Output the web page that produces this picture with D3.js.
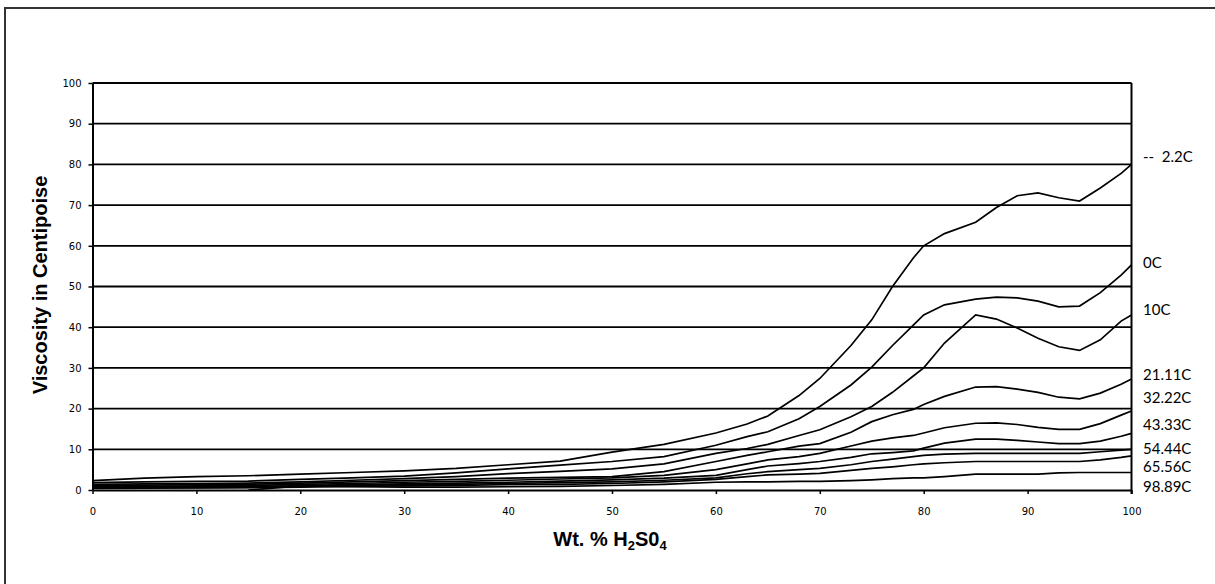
<!DOCTYPE html>
<meta charset="utf-8">
<style>
body { margin: 0; background: #fff; }
.grid line { stroke: #000; stroke-width: 1.8px; }
.series { fill: none; stroke: #000; stroke-width: 1.7px; }
.tick text { font-family: "DejaVu Sans", sans-serif; font-size: 10px; }
.rlabel { font-family: Lato, "Open Sans", sans-serif; font-size: 15px; white-space: pre; }
.title { font-family: "Liberation Sans", Arial, sans-serif; font-weight: bold; font-size: 20px; }
</style>
<body>
<svg id="chart"></svg>
<script src="https://cdn.jsdelivr.net/npm/d3@7"></script>
<script>

// wt % H2SO4 (shared x values)
var wt = [0,5,10,15,20,25,30,35,40,45,50,55,60,63,65,68,70,73,75,77,79,80,82,85,87,89,91,93,95,97,99,100];

// viscosity in centipoise, one array per temperature
var tM2_2  = [2.3,2.9,3.3,3.5,3.9,4.3,4.7,5.3,6.2,7.1,9.3,11.2,14.0,16.2,18.2,23.2,27.4,35.5,41.8,50.0,57.0,60.0,63.0,65.8,69.4,72.3,73.0,71.8,71.0,74.2,77.8,80.0];
var t0     = [1.8,2.0,2.1,2.2,2.6,3.0,3.4,4.2,5.2,6.1,7.0,8.2,11.0,13.1,14.3,17.5,20.5,25.8,30.2,35.5,40.5,43.0,45.5,46.9,47.4,47.2,46.4,45.0,45.2,48.5,52.8,55.3];
var t10    = [1.4,1.5,1.6,1.7,2.0,2.4,2.8,3.3,4.0,4.6,5.2,6.4,9.0,10.2,11.2,13.4,14.8,18.0,20.5,24.0,28.0,30.0,36.1,43.0,42.0,39.8,37.3,35.2,34.3,36.9,41.5,43.0];
var t21_11 = [1.1,1.2,1.3,1.4,1.7,2.0,2.3,2.6,2.9,3.1,3.3,4.5,7.0,8.5,9.4,10.8,11.4,14.2,16.8,18.5,19.8,21.0,23.0,25.3,25.4,24.8,24.0,22.8,22.4,23.8,26.0,27.3];
var t32_22 = [0.8,0.9,1.0,1.1,1.4,1.6,1.9,2.1,2.4,2.7,3.0,3.6,5.0,6.4,7.4,8.2,9.0,10.8,12.0,12.8,13.4,14.0,15.3,16.4,16.5,16.1,15.4,14.9,14.9,16.3,18.4,19.4];
var t43_33 = [0.6,0.7,0.75,0.8,1.1,1.3,1.5,1.7,1.9,2.2,2.5,2.9,3.6,5.0,5.9,6.5,7.0,8.0,8.9,9.2,9.6,10.3,11.5,12.5,12.5,12.2,11.8,11.4,11.4,12.0,13.2,13.9];
var t54_44 = [0.5,0.55,0.6,0.65,0.9,1.1,1.3,1.4,1.6,1.8,2.0,2.4,3.0,4.0,4.5,5.0,5.3,6.2,7.0,7.6,8.2,8.5,8.8,9.0,9.0,9.0,9.0,9.0,9.0,9.4,9.8,10.0];
var t65_56 = [0.4,0.45,0.5,0.55,0.7,0.9,1.0,1.1,1.3,1.4,1.6,2.0,2.6,3.3,3.7,3.9,4.1,4.8,5.3,5.7,6.2,6.4,6.7,7.0,7.0,7.0,7.0,7.0,7.0,7.4,8.0,8.4];
var t98_89 = [null,null,null,0,1.0,0.8,0.7,0.7,0.8,0.9,1.1,1.4,1.9,2.0,2.0,2.1,2.1,2.3,2.5,2.8,3.0,3.0,3.3,3.9,3.9,3.9,3.9,4.2,4.3,4.3,4.3,4.3];

var seriesNames = ["--  2.2C","0C","10C","21.11C","32.22C","43.33C","54.44C","65.56C","98.89C"];
var seriesData  = [tM2_2, t0, t10, t21_11, t32_22, t43_33, t54_44, t65_56, t98_89];

var xTicks = [0,10,20,30,40,50,60,70,80,90,100];
var yTicks = [0,10,20,30,40,50,60,70,80,90,100];

// where the series names sit on the right (viscosity units)
var labelAt = [81.8, 55.8, 44.2, 28.3, 22.6, 16.0, 10.1, 5.7, 0.7];

var W = 1215, H = 584;
var x = d3.scaleLinear().domain([0, 100]).range([92.5, 1131.5]);
var y = d3.scaleLinear().domain([0, 100]).range([490, 83]);

var svg = d3.select("#chart").attr("width", W).attr("height", H);

// outer frame (left + top only)
svg.append("path")
    .attr("d", "M5," + H + "V8H" + W)
    .attr("fill", "none")
    .attr("stroke", "#333")
    .attr("stroke-width", 2);

// horizontal grid lines
svg.append("g")
    .attr("class", "grid")
  .selectAll("line")
    .data(yTicks.filter(function(d) { return d > 0; }))
  .enter().append("line")
    .attr("x1", x(0)).attr("x2", x(100))
    .attr("y1", function(d) { return y(d); })
    .attr("y2", function(d) { return y(d); });

// right edge of plot
svg.append("line")
    .attr("x1", x(100)).attr("x2", x(100))
    .attr("y1", y(100)).attr("y2", y(0) + 4)
    .attr("stroke", "#000").attr("stroke-width", 2);

// series
var line = d3.line()
    .defined(function(d) { return d[1] != null; })
    .x(function(d) { return x(d[0]); })
    .y(function(d) { return y(d[1]); });

seriesData.forEach(function(vals) {
  svg.append("path")
      .datum(wt.map(function(w, i) { return [w, vals[i]]; }))
      .attr("class", "series")
      .attr("d", line);
});

// axes
var xAxis = svg.append("g")
    .attr("transform", "translate(0," + y(0) + ")")
    .call(d3.axisBottom(x).tickValues(xTicks).tickSize(4).tickPadding(14).tickSizeOuter(0));
var yAxis = svg.append("g")
    .attr("transform", "translate(" + x(0) + ",0)")
    .call(d3.axisLeft(y).tickValues(yTicks).tickSize(4).tickPadding(7).tickSizeOuter(0));

[xAxis, yAxis].forEach(function(a) {
  a.select(".domain").attr("stroke", "#000").attr("stroke-width", 2);
  a.selectAll(".tick line").attr("stroke", "#000").attr("stroke-width", 1.5);
  a.selectAll(".tick text").attr("fill", "#000");
});

// series names on the right
svg.selectAll(".rlabel")
    .data(seriesNames)
  .enter().append("text")
    .attr("class", "rlabel")
    .attr("x", 1143)
    .attr("y", function(d, i) { return y(labelAt[i]); })
    .attr("dy", "0.35em")
    .text(function(d) { return d; });

// axis titles
var xt = svg.append("text")
    .attr("class", "title")
    .attr("x", 610)
    .attr("y", 546)
    .attr("text-anchor", "middle");
xt.append("tspan").text("Wt. % H");
xt.append("tspan").attr("font-size", "13px").attr("dy", 4).text("2");
xt.append("tspan").attr("dy", -4).text("S0");
xt.append("tspan").attr("font-size", "13px").attr("dy", 4).text("4");

svg.append("text")
    .attr("class", "title")
    .attr("transform", "translate(47,285) rotate(-90)")
    .attr("text-anchor", "middle")
    .text("Viscosity in Centipoise");

</script>
</body>
